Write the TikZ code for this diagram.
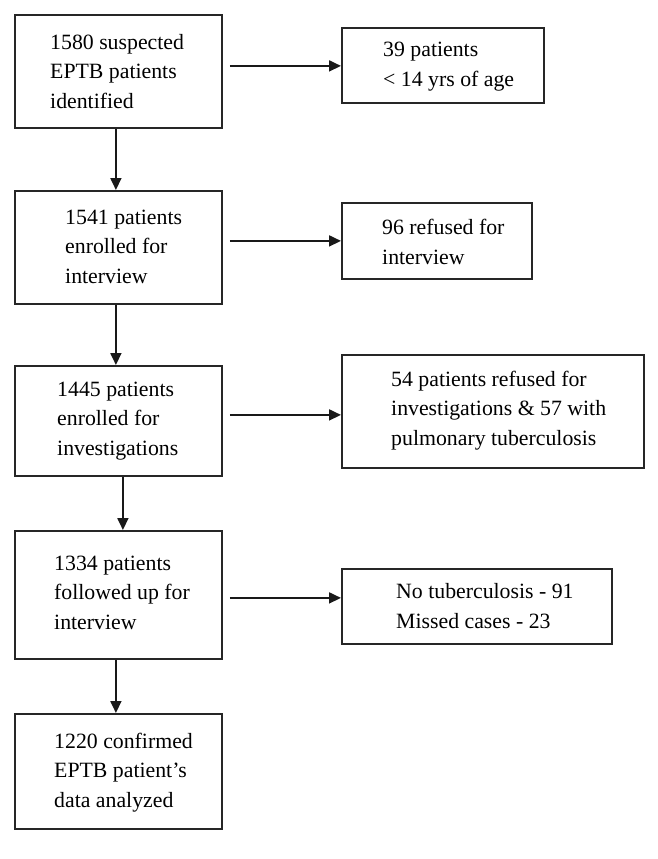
\documentclass[tikz,border=0pt]{standalone}
\usepackage{fontspec}
\setmainfont{Liberation Serif}
\usetikzlibrary{arrows.meta}
\begin{document}
\begin{tikzpicture}[x=1pt,y=-1pt,
  box/.style={draw=black!85,line width=1.8pt,rectangle,inner sep=0pt,anchor=north west},
  txt/.style={anchor=base west,inner sep=0pt,align=left,text=black,font=\fontsize{21.8pt}{29.5pt}\selectfont},
  arr/.style={line width=1.8pt,draw=black!90,-{Triangle[length=12pt,width=11pt]}}]
\useasboundingbox (0,0) rectangle (658,859);
% left column
\node[box,minimum width=207pt,minimum height=113pt] (b1) at (14,14) {};
\node[box,minimum width=207pt,minimum height=113pt] (b2) at (14,190) {};
\node[box,minimum width=207pt,minimum height=110pt] (b3) at (14,365) {};
\node[box,minimum width=207pt,minimum height=128pt] (b4) at (14,530) {};
\node[box,minimum width=207pt,minimum height=115pt] (b5) at (14,713) {};
% right column
\node[box,minimum width=202pt,minimum height=75pt] (r1) at (341,27) {};
\node[box,minimum width=190pt,minimum height=76pt] (r2) at (341,202) {};
\node[box,minimum width=302pt,minimum height=113pt] (r3) at (341,354) {};
\node[box,minimum width=270pt,minimum height=75pt] (r4) at (341,568) {};
% texts (anchored at the baseline of the last line)
\node[txt] (t1) at (50,108) {1580 suspected\\EPTB patients\\identified};
\node[txt] (t2) at (65,283) {1541 patients\\enrolled for\\interview};
\node[txt] (t3) at (57,455) {1445 patients\\enrolled for\\investigations};
\node[txt] (t4) at (54,629) {1334 patients\\followed up for\\interview};
\node[txt] (t5) at (54,807) {1220 confirmed\\EPTB patient’s\\data analyzed};
\node[txt] (u1) at (383,86) {39 patients\\< 14 yrs of age};
\node[txt] (u2) at (382,264) {96 refused for\\interview};
\node[txt] (u3) at (391,445) {54 patients refused for\\investigations \& 57 with\\pulmonary tuberculosis};
\node[txt] (u4) at (396,628) {No tuberculosis - 91\\Missed cases - 23};
% vertical arrows
\draw[arr] ([xshift=-2.5pt]b1.south) -- ([xshift=-2.5pt]b2.north);
\draw[arr] ([xshift=-2.5pt]b2.south) -- ([xshift=-2.5pt]b3.north);
\draw[arr] ([xshift=4.5pt]b3.south) -- ([xshift=4.5pt]b4.north);
\draw[arr] ([xshift=-2.5pt]b4.south) -- ([xshift=-2.5pt]b5.north);
% horizontal arrows
\draw[arr] ([shift={(7,-5.5)}]b1.east) coordinate (s1) -- (s1 -| r1.west);
\draw[arr] ([shift={(7,-6.5)}]b2.east) coordinate (s2) -- (s2 -| r2.west);
\draw[arr] ([shift={(7,-6)}]b3.east) coordinate (s3) -- (s3 -| r3.west);
\draw[arr] ([shift={(7,3)}]b4.east) coordinate (s4) -- (s4 -| r4.west);
\end{tikzpicture}
\end{document}
